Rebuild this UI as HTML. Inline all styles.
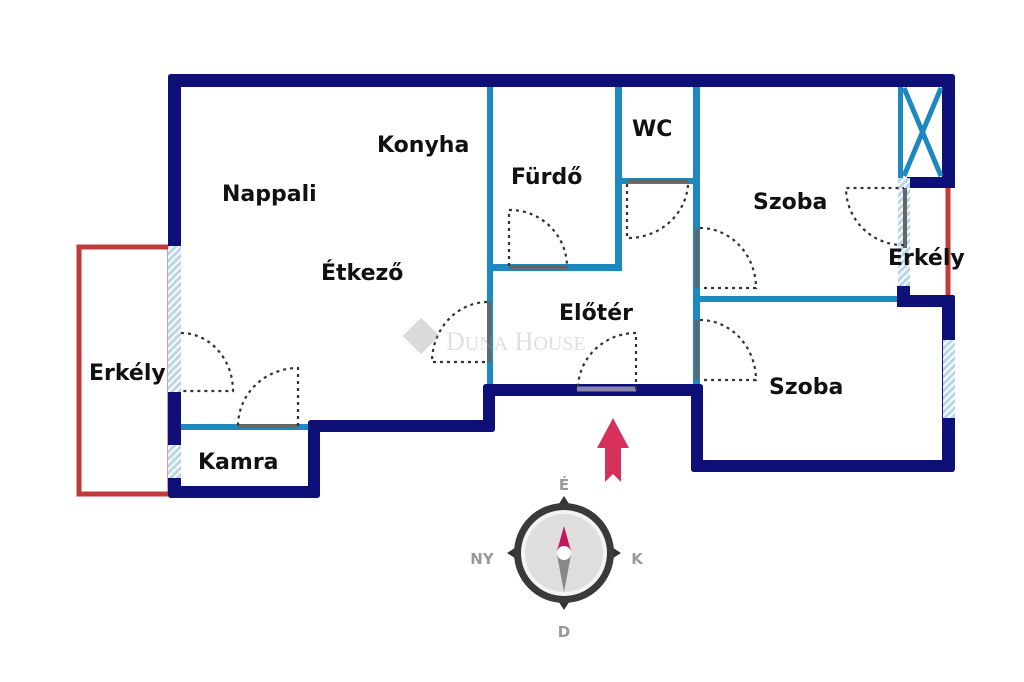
<!DOCTYPE html>
<html><head><meta charset="utf-8"><style>
html,body{margin:0;padding:0;background:#fff;}
svg{display:block}
text{font-family:"DejaVu Sans","Liberation Sans",sans-serif;font-weight:bold;font-size:22px;fill:#111}
</style></head><body>
<svg width="1024" height="682" viewBox="0 0 1024 682" xmlns="http://www.w3.org/2000/svg">
<defs>
<pattern id="h" width="5" height="5" patternUnits="userSpaceOnUse" patternTransform="rotate(45)">
<rect width="5" height="5" fill="#b8d6ea"/><rect width="2" height="5" fill="#fff"/>
</pattern>
</defs>
<rect x="79" y="247" width="91" height="247" fill="none" stroke="#c0393b" stroke-width="5"/>
<line x1="948" y1="188" x2="948" y2="296" stroke="#c0393b" stroke-width="5"/>
<g fill="#0f0f78">
<rect x="168" y="74" width="787" height="13" rx="3"/>
<rect x="168" y="74" width="13" height="424" rx="3"/>
<rect x="168" y="486" width="152" height="12" rx="3"/>
<rect x="308" y="420" width="12" height="78" rx="3"/>
<rect x="308" y="420" width="187" height="12" rx="3"/>
<rect x="483" y="384" width="12" height="48" rx="3"/>
<rect x="483" y="384" width="220" height="12" rx="3"/>
<rect x="691" y="384" width="12" height="88" rx="3"/>
<rect x="691" y="460" width="264" height="12" rx="3"/>
<rect x="942" y="296" width="13" height="176" rx="3"/>
<rect x="942" y="74" width="13" height="114" rx="3"/>
<rect x="907" y="177" width="48" height="11"/>
<rect x="897" y="295" width="58" height="12" rx="2"/>
<rect x="897" y="286" width="13" height="21"/>
</g>
<rect x="168" y="246" width="13" height="146" fill="url(#h)"/>
<rect x="168" y="445" width="13" height="33" fill="url(#h)"/>
<rect x="943" y="340" width="12" height="78" fill="url(#h)"/>
<rect x="898" y="178" width="12" height="108" fill="url(#h)"/>
<g fill="#1e88c0">
<rect x="487" y="87" width="6" height="297"/>
<rect x="487" y="264" width="135" height="7"/>
<rect x="615" y="87" width="7" height="184"/>
<rect x="622" y="178" width="78" height="6"/>
<rect x="693" y="87" width="7" height="297"/>
<rect x="700" y="296" width="197" height="6"/>
<rect x="181" y="424" width="127" height="6"/>
<rect x="898" y="87" width="5" height="91"/>
</g>
<g stroke="#1e88c0" stroke-width="5"><line x1="904" y1="88" x2="941" y2="176"/><line x1="941" y1="88" x2="904" y2="176"/></g>
<g stroke="#666" stroke-width="4">
<line x1="509" y1="267" x2="568" y2="267"/>
<line x1="627" y1="181" x2="688" y2="181"/>
<line x1="697" y1="228" x2="697" y2="288"/>
<line x1="697" y1="320" x2="697" y2="380"/>
<line x1="905" y1="188" x2="905" y2="248"/>
<line x1="489" y1="302" x2="489" y2="362"/>
<line x1="238" y1="426" x2="298" y2="426"/>
</g>
<line x1="577" y1="389" x2="636" y2="389" stroke="#8a84a8" stroke-width="5"/>
<g fill="none" stroke="#333" stroke-width="2.2" stroke-dasharray="3,4">
<path d="M509 266 V210 A57 57 0 0 1 567 266"/>
<path d="M627 184 V238 A60 57 0 0 0 688 184"/>
<path d="M700 228 A56 60 0 0 1 756 288 H700"/>
<path d="M700 320 A56 60 0 0 1 756 380 H700"/>
<path d="M904 245 A57 57 0 0 1 846 188 H904"/>
<path d="M487 302 A56 60 0 0 0 432 362 H487"/>
<path d="M636 389 V333 A58 56 0 0 0 578 389"/>
<path d="M181 333 A52 58 0 0 1 233 391 H181"/>
<path d="M298 426 V368 A60 58 0 0 0 238 426"/>
</g>
<g opacity="0.3">
<rect x="408" y="323" width="26" height="26" transform="rotate(45 421 336)" fill="#888"/>
<text x="446" y="350" style="font-family:'Liberation Serif',serif;font-weight:normal;font-size:26px;fill:#999">D<tspan font-size="20">UNA</tspan> H<tspan font-size="20">OUSE</tspan></text>
</g>
<text x="377" y="152">Konyha</text>
<text x="222" y="201">Nappali</text>
<text x="321" y="280">Étkező</text>
<text x="511" y="184">Fürdő</text>
<text x="632" y="136">WC</text>
<text x="753" y="209">Szoba</text>
<text x="888" y="265">Erkély</text>
<text x="559" y="320">Előtér</text>
<text x="769" y="394">Szoba</text>
<text x="89" y="380">Erkély</text>
<text x="198" y="469">Kamra</text>
<polygon points="613,418 629,448 621,448 621,482 613,474 605,482 605,448 597,448" fill="#d6315a"/>
<g>
<polygon points="564,496 546,524 582,524" fill="#333"/>
<polygon points="564,610 546,582 582,582" fill="#333"/>
<polygon points="507,553 535,535 535,571" fill="#333"/>
<polygon points="621,553 593,535 593,571" fill="#333"/>
<circle cx="564" cy="553" r="50" fill="#3a3a3a"/>
<circle cx="564" cy="553" r="43" fill="#f3f3f3"/>
<circle cx="564" cy="553" r="39" fill="#dedede"/>
<polygon points="564,526 557,551 571,551" fill="#c2185b"/>
<polygon points="564,592 557,555 571,555" fill="#888"/>
<circle cx="564" cy="553" r="7" fill="#fff"/>
<text x="564" y="490" text-anchor="middle" style="font-size:15px;fill:#999">É</text>
<text x="564" y="637" text-anchor="middle" style="font-size:15px;fill:#999">D</text>
<text x="482" y="564" text-anchor="middle" style="font-size:15px;fill:#999">NY</text>
<text x="637" y="564" text-anchor="middle" style="font-size:15px;fill:#999">K</text>
</g>
</svg>
</body></html>
